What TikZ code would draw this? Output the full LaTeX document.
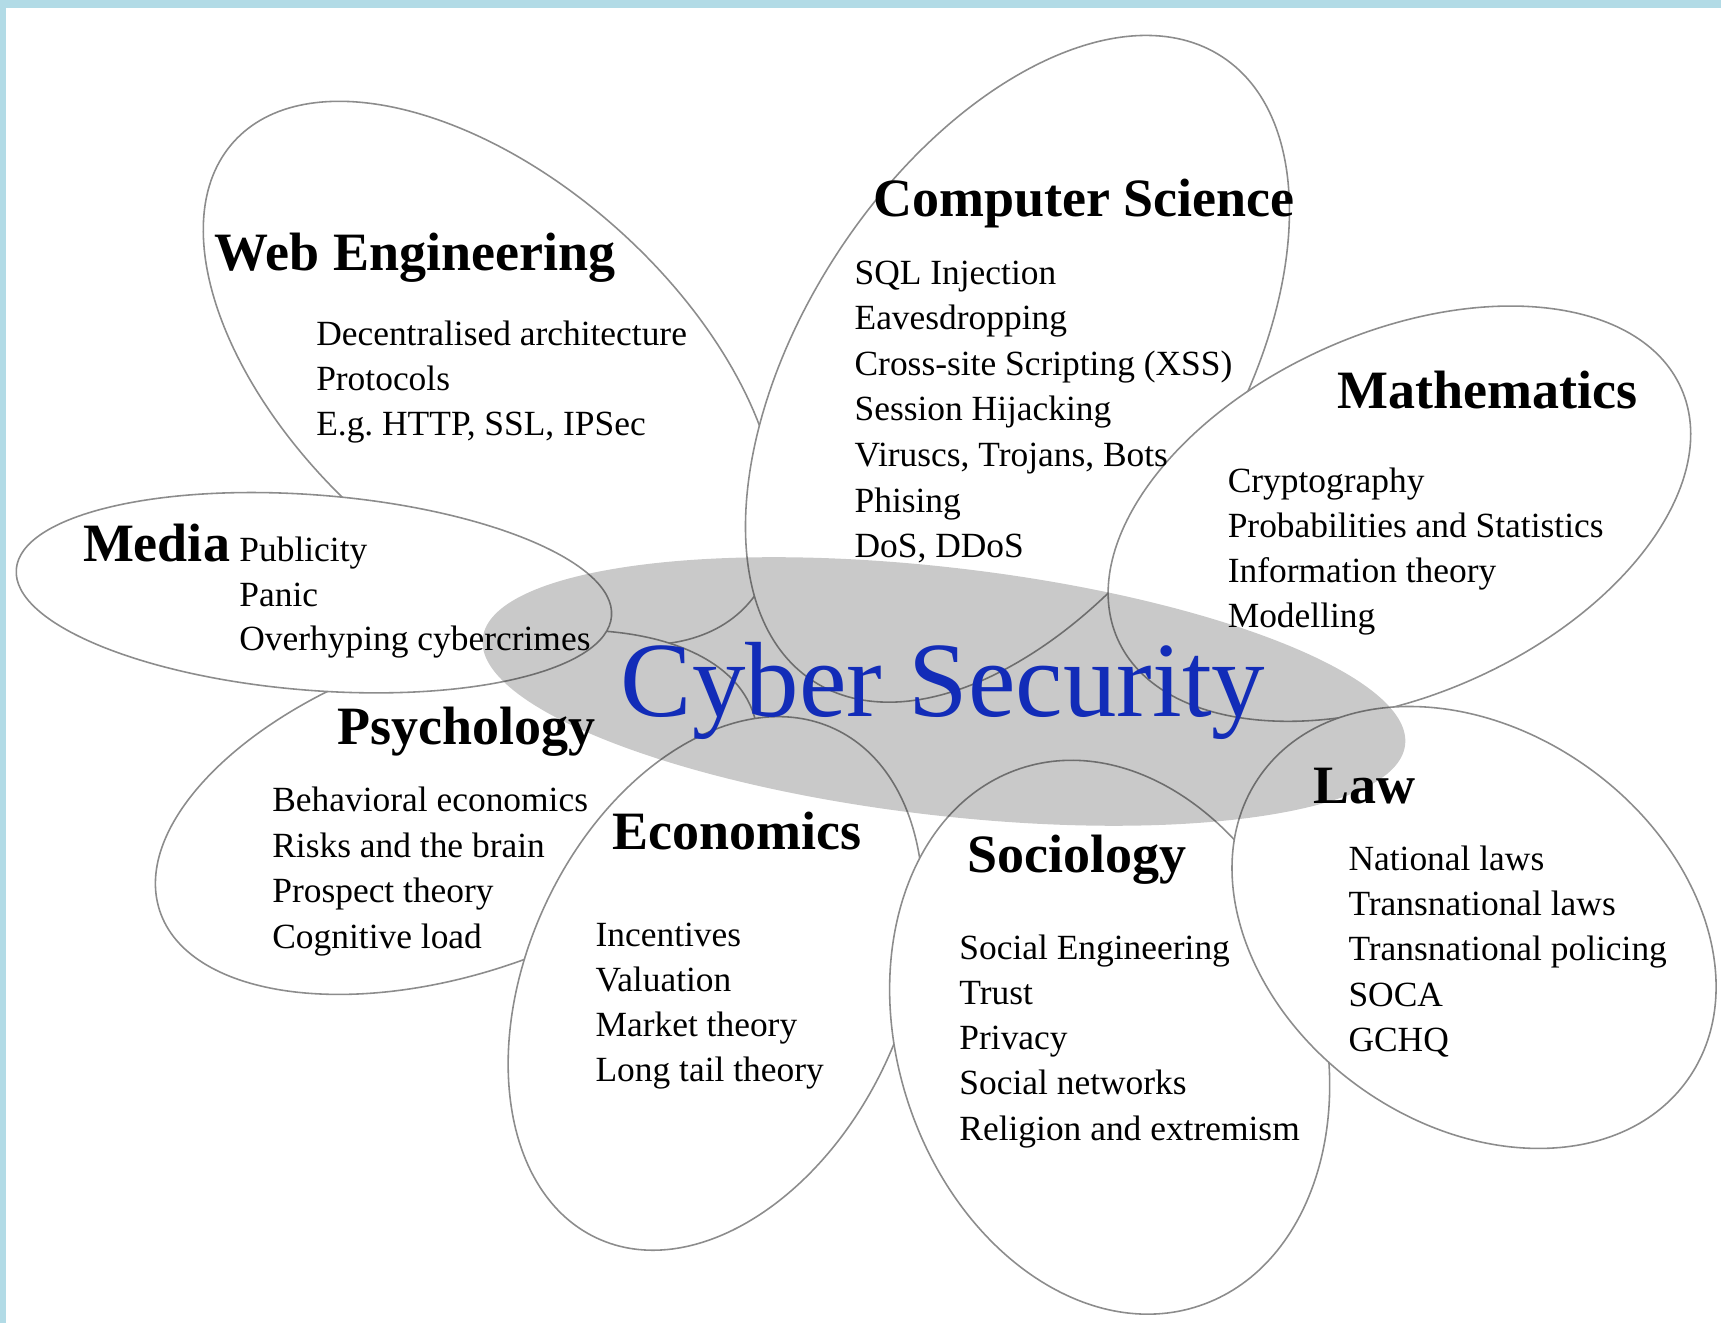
\documentclass[tikz,border=0pt]{standalone}
\usepackage{fontspec}
\setmainfont{Liberation Serif}
\definecolor{framebl}{RGB}{178,219,230}
\definecolor{csblue}{RGB}{18,44,184}

\tikzset{petal/.style = {draw=black!45, line width=0.45pt, fill=white},
         head/.style  = {anchor=base west, inner sep=0pt,
                         font=\fontsize{15.4}{18}\selectfont\bfseries},
         item/.style  = {anchor=base west, inner sep=0pt,
                         font=\fontsize{10.1}{13}\selectfont}
        }

\begin{document}
\frenchspacing
\begin{tikzpicture}[x=0.011cm, y=-0.011cm]
  \useasboundingbox (0,0) rectangle (1568,1205);
  % frame
  \fill[framebl] (0,0) rectangle (1568,1205);
  \fill[white] (5.5,7.5) rectangle (1568,1205);

  % petals
  \draw[petal, rotate around={-42:(447,340)}]   (447,340)  ellipse [x radius=315, y radius=175];
  \draw[petal, rotate around={18.4:(416,740)}]  (416,740)  ellipse [x radius=285, y radius=147];
  \draw[petal, rotate around={-4.5:(286,540)}]  (286,540)  ellipse [x radius=272, y radius=89];
  \draw[petal, rotate around={56.7:(927,336)}]  (927,336)  ellipse [x radius=340, y radius=195];
  \draw[petal, rotate around={24:(1275,468)}]   (1275,468) ellipse [x radius=281, y radius=165];
  \draw[petal, rotate around={65:(652,896)}]    (652,896)  ellipse [x radius=256, y radius=171];
  \draw[petal, rotate around={-71.6:(1011,945)}] (1011,945) ellipse [x radius=258, y radius=193];
  \draw[petal, rotate around={-35.6:(1343,845)}] (1343,845) ellipse [x radius=239, y radius=179];

  % heart of the flower
  \fill[black, fill opacity=0.21, rotate around={-6.6:(860,630)}] (860,630) ellipse [x radius=423, y radius=113];

  % Web Engineering
  \node[head] (web) at (195,246) {Web Engineering};
  \foreach \t [count=\i from 0] in {Decentralised architecture, Protocols, {E.g. HTTP, SSL, IPSec}}
    \node[item] (web-\i) at (287.5,314.6+41.3*\i) {\t};

  % Computer Science
  \node[head] (cs) at (795,197.5) {Computer Science};
  \foreach \t [count=\i from 0] in {SQL Injection, Eavesdropping, Cross-site Scripting (XSS),
      Session Hijacking, {Viruscs, Trojans, Bots}, Phising, {DoS, DDoS}}
    \node[item] (cs-\i) at (778,259+41.5*\i) {\t};

  % Mathematics
  \node[head] (math) at (1218,372) {Mathematics};
  \foreach \t [count=\i from 0] in {Cryptography, Probabilities and Statistics,
      Information theory, Modelling}
    \node[item] (math-\i) at (1118,449+41*\i) {\t};

  % Media
  \node[head] (media) at (75,512) {Media};
  \foreach \t [count=\i from 0] in {Publicity, Panic, Overhyping cybercrimes}
    \node[item] (media-\i) at (217.5,512+40.5*\i) {\t};

  % Psychology
  \node[head] (psy) at (307,678) {Psychology};
  \foreach \t [count=\i from 0] in {Behavioral economics, Risks and the brain,
      Prospect theory, Cognitive load}
    \node[item] (psy-\i) at (247.5,739.5+41.5*\i) {\t};

  % Economics
  \node[head] (eco) at (557,774) {Economics};
  \foreach \t [count=\i from 0] in {Incentives, Valuation, Market theory, Long tail theory}
    \node[item] (eco-\i) at (542,862+41*\i) {\t};

  % Sociology
  \node[head] (soc) at (881,795) {Sociology};
  \foreach \t [count=\i from 0] in {Social Engineering, Trust, Privacy, Social networks,
      Religion and extremism}
    \node[item] (soc-\i) at (873.5,874+41.2*\i) {\t};

  % Law
  \node[head] (law) at (1196,732) {Law};
  \foreach \t [count=\i from 0] in {National laws, Transnational laws,
      Transnational policing, SOCA, GCHQ}
    \node[item] (law-\i) at (1228,793+41.2*\i) {\t};

  % centre title
  \node[anchor=base west, inner sep=0pt, text=csblue, font=\fontsize{30.5}{36}\selectfont]
    (cyber) at (565,653) {Cyber Security};
\end{tikzpicture}
\end{document}
